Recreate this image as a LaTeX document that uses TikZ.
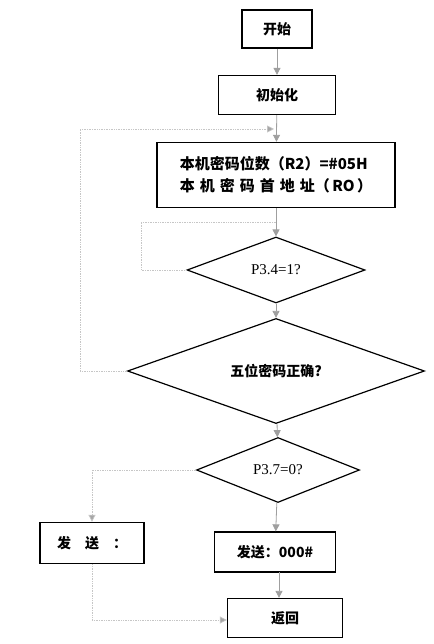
\documentclass[tikz,border=0pt]{standalone}
\usepackage{fontspec}
\setmainfont{Liberation Serif}
\newfontfamily\cjk{Noto Sans CJK SC}
\usetikzlibrary{positioning,arrows.meta,shapes.geometric}

\begin{document}
\begin{tikzpicture}[x=1pt, y=-1pt,
  box/.style={draw=black, line width=1.3pt, font=\cjk\bfseries\fontsize{14}{19}\selectfont, inner sep=0pt},
  dec/.style={diamond, draw=black, line width=1.2pt, inner sep=0pt},
  flow/.style={draw=gray!75, line width=0.8pt, -{Triangle[width=7pt,length=7pt]}},
  back/.style={draw=gray!45, line width=0.7pt, densely dotted},
  backarr/.style={back, -{Triangle[width=7pt,length=7pt, fill=gray!70]}}
]
\useasboundingbox (0,0) rectangle (433,644);

\node[box, minimum width=70pt, minimum height=38pt] (start) at (277, 29) {开始};
\node[box, minimum width=117pt, minimum height=39pt] (init) at (277, 95) {初始化};
\node[box, minimum width=238pt, minimum height=65pt, align=left, font=\cjk\bfseries\fontsize{15}{22}\selectfont] (setr) at (276, 175)
  {本机密码位数（R2）=\#05H\\本\,\,机\,\,密\,\,码\,\,首\,\,地\,\,址（\,RO\,）};
\node[dec, minimum width=178pt, minimum height=66pt, font=\fontsize{15}{16}\selectfont] (p34) at (276, 270) {P3.4=1?};
\node[dec, minimum width=297pt, minimum height=82pt, font=\cjk\bfseries\fontsize{14}{16}\selectfont] (pwd) at (276, 371) {五位密码正确?};
\node[dec, minimum width=163pt, minimum height=65pt, font=\fontsize{15}{16}\selectfont] (p37) at (278, 470) {P3.7=0?};
\node[box, minimum width=104pt, minimum height=41pt] (sendl) at (92, 543) {发\quad 送\quad ：};
\node[box, minimum width=121pt, minimum height=40pt] (sendr) at (275, 552) {发送：000\#};
\node[box, minimum width=115pt, minimum height=39pt] (ret) at (285, 618) {返回};

\coordinate (j1) at (276, 129);
\coordinate (j2) at (276, 222);
\coordinate (c1) at (80, 129);
\coordinate (c2) at (80, 371);
\coordinate (c3) at (141, 222);
\coordinate (c4) at (141, 270);
\coordinate (c5) at (92, 470);
\coordinate (c6) at (92, 620);
\coordinate (r1) at (279, 572);

\draw[flow] (start) -- (init);
\draw[flow] (init) -- (setr);
\draw[flow] (setr) -- (p34);
\draw[flow] (p34) -- (pwd);
\draw[flow] (pwd) -- (p37);
\draw[flow] (p37) -- (sendr);
\draw[flow] (r1) -- (r1 |- ret.north);

\draw[backarr] (pwd.west) -- (c2) -- (c1) -- ([xshift=-2pt]j1);
\draw[back] (p34.west) -- (c4) -- (c3) -- (j2);
\draw[backarr] (p37.west) -- (c5) -- (sendl.north);
\draw[backarr] (sendl.south) -- (c6) -- (c6 -| ret.west);

\end{tikzpicture}
\end{document}
